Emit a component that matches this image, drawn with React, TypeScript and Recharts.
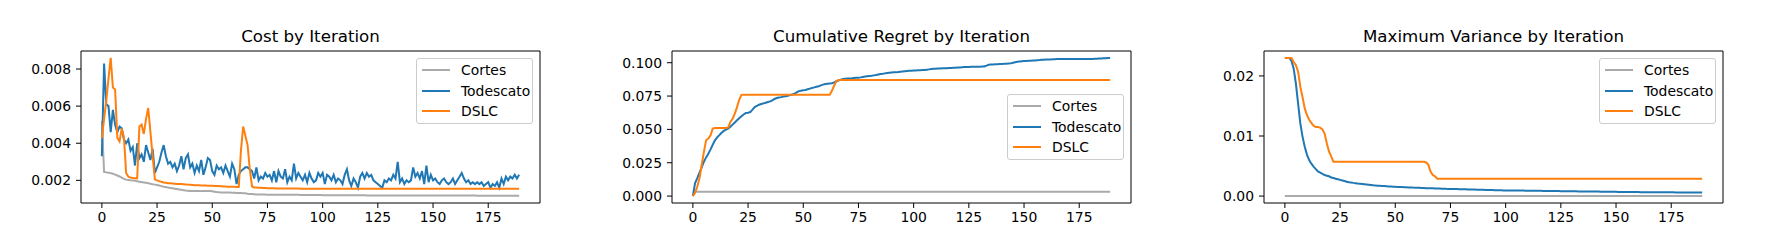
import React from 'react';
import { LineChart, Line, XAxis, YAxis, ReferenceArea, Legend } from 'recharts';

const FONT = '"DejaVu Sans", sans-serif';

const ITERATIONS = Array.from({ length: 190 }, (_, i) => i);
const X_TICKS = [0, 25, 50, 75, 100, 125, 150, 175];
const X_DOMAIN: [number, number] = [-9.45, 198.45];

const SERIES = [
  { key: 'cortes', label: 'Cortes', color: '#aaaaaa' },
  { key: 'todescato', label: 'Todescato', color: '#1f77b4' },
  { key: 'dslc', label: 'DSLC', color: '#ff7f0e' },
];

// ---- Cost by Iteration ----
const COST_CORTES = [
  0.0052, 0.00245, 0.00243, 0.00241, 0.00239, 0.00236, 0.00231, 0.00226, 0.00221, 0.00215,
  0.00208, 0.00204, 0.00202, 0.002, 0.00199, 0.00198, 0.00195, 0.00193, 0.00191, 0.00189,
  0.00187, 0.00185, 0.00182, 0.00179, 0.00177, 0.00175, 0.00172, 0.00169, 0.00166, 0.00164,
  0.00161, 0.00159, 0.00157, 0.00155, 0.00153, 0.00151, 0.00149, 0.00147, 0.00145, 0.00144,
  0.00143, 0.00143, 0.00143, 0.00143, 0.00143, 0.00142, 0.00142, 0.00142, 0.00142, 0.00142,
  0.00141, 0.00139, 0.00137, 0.00136, 0.00135, 0.00135, 0.00134, 0.00134, 0.00134, 0.00133,
  0.00133, 0.00132, 0.00132, 0.00132, 0.00131, 0.0013, 0.00128, 0.00127, 0.00126, 0.00125,
  0.00124, 0.00124, 0.00124, 0.00124, 0.00124, 0.00123, 0.00123, 0.00123, 0.00123, 0.00123,
  0.00122, 0.00122, 0.00122, 0.00122, 0.00122, 0.00122, 0.00122, 0.00122, 0.00122, 0.00122,
  0.00121, 0.00121, 0.00121, 0.00121, 0.00121, 0.00121, 0.00121, 0.00121, 0.00121, 0.00121,
  0.0012, 0.0012, 0.0012, 0.0012, 0.0012, 0.0012, 0.0012, 0.0012, 0.0012, 0.0012,
  0.0012, 0.0012, 0.0012, 0.0012, 0.0012, 0.0012, 0.0012, 0.0012, 0.0012, 0.0012,
  0.00119, 0.00119, 0.00119, 0.00119, 0.00119, 0.00119, 0.00119, 0.00119, 0.00119, 0.00119,
  0.00119, 0.00119, 0.00119, 0.00119, 0.00119, 0.00119, 0.00119, 0.00119, 0.00119, 0.00119,
  0.00119, 0.00119, 0.00119, 0.00119, 0.00119, 0.00119, 0.00119, 0.00119, 0.00119, 0.00119,
  0.00118, 0.00118, 0.00118, 0.00118, 0.00118, 0.00118, 0.00118, 0.00118, 0.00118, 0.00118,
  0.00118, 0.00118, 0.00118, 0.00118, 0.00118, 0.00118, 0.00118, 0.00118, 0.00118, 0.00118,
  0.00117, 0.00117, 0.00117, 0.00117, 0.00117, 0.00117, 0.00117, 0.00117, 0.00117, 0.00117,
  0.00117, 0.00117, 0.00117, 0.00117, 0.00117, 0.00117, 0.00117, 0.00117, 0.00117, 0.00117,
];

const COST_TODESCATO = [
  0.0033, 0.0083, 0.0061, 0.006, 0.0046, 0.0058, 0.005, 0.0046, 0.0049, 0.0048,
  0.0042, 0.004, 0.0042, 0.0036, 0.0038, 0.0028, 0.004, 0.0032, 0.0034, 0.003,
  0.0039, 0.0035, 0.0031, 0.0037, 0.0024, 0.0027, 0.003, 0.0035, 0.0039, 0.0033,
  0.0029, 0.003, 0.0027, 0.0029, 0.0025, 0.0028, 0.0033, 0.0026, 0.0032, 0.0034,
  0.0027, 0.0029, 0.0024, 0.0028, 0.0025, 0.0031, 0.0023, 0.0027, 0.0032, 0.0031,
  0.0025, 0.0023, 0.0028, 0.0026, 0.0027, 0.0024, 0.0028, 0.0025, 0.0022, 0.0029,
  0.0026, 0.0018, 0.0023, 0.0025, 0.0026, 0.0027, 0.0027, 0.0026, 0.0025, 0.0021,
  0.0027, 0.002, 0.0022, 0.0021, 0.0024, 0.0022, 0.0023, 0.002, 0.0025, 0.0019,
  0.0025, 0.0022, 0.0021, 0.0026, 0.0019, 0.0022, 0.002, 0.0029, 0.0021, 0.0024,
  0.0022, 0.002, 0.0023, 0.0019, 0.0024, 0.0021, 0.0019, 0.002, 0.0024, 0.0022,
  0.0024, 0.0018, 0.0023, 0.0022, 0.002, 0.0023, 0.0019, 0.0021, 0.002, 0.0018,
  0.0023, 0.0026, 0.002, 0.0017, 0.0021, 0.0019, 0.0016, 0.0022, 0.0024, 0.0021,
  0.0024, 0.0022, 0.0023, 0.002, 0.0019, 0.0018, 0.0017, 0.0016, 0.002, 0.0019,
  0.0021, 0.002, 0.0023, 0.0021, 0.003, 0.0019, 0.0021, 0.0018, 0.002, 0.0019,
  0.002, 0.0027, 0.0022, 0.0024, 0.0021, 0.0025, 0.0018, 0.0028, 0.0019, 0.0023,
  0.002, 0.0021, 0.0019, 0.0018, 0.002, 0.0021, 0.0019, 0.0018, 0.0019, 0.0021,
  0.0018, 0.002, 0.0022, 0.0024, 0.0021, 0.0019, 0.002, 0.0018, 0.0019, 0.0018,
  0.0019, 0.0018, 0.0019, 0.0017, 0.0018, 0.0019, 0.0016, 0.0018, 0.0017, 0.0019,
  0.0016, 0.0021, 0.0018, 0.0022, 0.002, 0.0022, 0.0021, 0.0023, 0.0021, 0.0023,
];

const COST_DSLC = [
  0.00428, 0.0053, 0.0063, 0.0075, 0.0086, 0.007, 0.0069, 0.0043, 0.0041, 0.0048,
  0.0043, 0.0024, 0.0022, 0.00215, 0.00213, 0.00212, 0.00211, 0.0049, 0.005, 0.0045,
  0.0053, 0.0059, 0.0046, 0.0033, 0.00205, 0.002, 0.00196, 0.00192, 0.00189, 0.00187,
  0.00185, 0.00184, 0.00183, 0.00182, 0.00181, 0.0018, 0.0018, 0.00179, 0.00178, 0.00177,
  0.00176, 0.00175, 0.00174, 0.00173, 0.00173, 0.00172, 0.00172, 0.00172, 0.00171, 0.00171,
  0.00171, 0.0017, 0.0017, 0.00169, 0.00168, 0.00167, 0.00167, 0.00166, 0.00166, 0.00165,
  0.00165, 0.00164, 0.00164, 0.0036, 0.0049, 0.0044, 0.0039, 0.0026, 0.00167, 0.00162,
  0.00161, 0.0016, 0.0016, 0.00159, 0.00159, 0.00158, 0.00158, 0.00157, 0.00157, 0.00156,
  0.00156, 0.00156, 0.00156, 0.00156, 0.00156, 0.00156, 0.00156, 0.00156, 0.00156, 0.00156,
  0.00155, 0.00155, 0.00155, 0.00155, 0.00155, 0.00155, 0.00155, 0.00155, 0.00155, 0.00155,
  0.00155, 0.00155, 0.00155, 0.00155, 0.00155, 0.00155, 0.00155, 0.00155, 0.00155, 0.00155,
  0.00155, 0.00155, 0.00155, 0.00155, 0.00155, 0.00155, 0.00155, 0.00155, 0.00155, 0.00155,
  0.00155, 0.00155, 0.00155, 0.00155, 0.00155, 0.00155, 0.00155, 0.00155, 0.00155, 0.00155,
  0.00155, 0.00155, 0.00155, 0.00155, 0.00155, 0.00155, 0.00155, 0.00155, 0.00155, 0.00155,
  0.00155, 0.00155, 0.00155, 0.00155, 0.00155, 0.00155, 0.00155, 0.00155, 0.00155, 0.00155,
  0.00155, 0.00155, 0.00155, 0.00155, 0.00155, 0.00155, 0.00155, 0.00155, 0.00155, 0.00155,
  0.00155, 0.00155, 0.00155, 0.00155, 0.00155, 0.00155, 0.00155, 0.00155, 0.00155, 0.00155,
  0.00155, 0.00155, 0.00155, 0.00155, 0.00155, 0.00155, 0.00155, 0.00155, 0.00155, 0.00155,
  0.00155, 0.00155, 0.00155, 0.00155, 0.00155, 0.00155, 0.00155, 0.00155, 0.00155, 0.00155,
];

// ---- Cumulative Regret by Iteration ----
const REGRET_CORTES = [
  0.0033, 0.0033, 0.0033, 0.0033, 0.0033, 0.0033, 0.0033, 0.0033, 0.0033, 0.0033,
  0.0033, 0.0033, 0.0033, 0.0033, 0.0033, 0.0033, 0.0033, 0.0033, 0.0033, 0.0033,
  0.0033, 0.0033, 0.0033, 0.0033, 0.0033, 0.0033, 0.0033, 0.0033, 0.0033, 0.0033,
  0.0033, 0.0033, 0.0033, 0.0033, 0.0033, 0.0033, 0.0033, 0.0033, 0.0033, 0.0033,
  0.0033, 0.0033, 0.0033, 0.0033, 0.0033, 0.0033, 0.0033, 0.0033, 0.0033, 0.0033,
  0.0033, 0.0033, 0.0033, 0.0033, 0.0033, 0.0033, 0.0033, 0.0033, 0.0033, 0.0033,
  0.0033, 0.0033, 0.0033, 0.0033, 0.0033, 0.0033, 0.0033, 0.0033, 0.0033, 0.0033,
  0.0033, 0.0033, 0.0033, 0.0033, 0.0033, 0.0033, 0.0033, 0.0033, 0.0033, 0.0033,
  0.0033, 0.0033, 0.0033, 0.0033, 0.0033, 0.0033, 0.0033, 0.0033, 0.0033, 0.0033,
  0.0033, 0.0033, 0.0033, 0.0033, 0.0033, 0.0033, 0.0033, 0.0033, 0.0033, 0.0033,
  0.0033, 0.0033, 0.0033, 0.0033, 0.0033, 0.0033, 0.0033, 0.0033, 0.0033, 0.0033,
  0.0033, 0.0033, 0.0033, 0.0033, 0.0033, 0.0033, 0.0033, 0.0033, 0.0033, 0.0033,
  0.0033, 0.0033, 0.0033, 0.0033, 0.0033, 0.0033, 0.0033, 0.0033, 0.0033, 0.0033,
  0.0033, 0.0033, 0.0033, 0.0033, 0.0033, 0.0033, 0.0033, 0.0033, 0.0033, 0.0033,
  0.0033, 0.0033, 0.0033, 0.0033, 0.0033, 0.0033, 0.0033, 0.0033, 0.0033, 0.0033,
  0.0033, 0.0033, 0.0033, 0.0033, 0.0033, 0.0033, 0.0033, 0.0033, 0.0033, 0.0033,
  0.0033, 0.0033, 0.0033, 0.0033, 0.0033, 0.0033, 0.0033, 0.0033, 0.0033, 0.0033,
  0.0033, 0.0033, 0.0033, 0.0033, 0.0033, 0.0033, 0.0033, 0.0033, 0.0033, 0.0033,
  0.0033, 0.0033, 0.0033, 0.0033, 0.0033, 0.0033, 0.0033, 0.0033, 0.0033, 0.0033,
];

const REGRET_TODESCATO = [
  0, 0.0097, 0.0134, 0.0175, 0.0215, 0.0258, 0.029, 0.0318, 0.035, 0.0385,
  0.0418, 0.044, 0.0457, 0.0475, 0.0489, 0.0498, 0.0506, 0.052, 0.0536, 0.0552,
  0.0568, 0.0583, 0.0598, 0.0612, 0.0623, 0.0625, 0.063, 0.0648, 0.0667, 0.0676,
  0.0685, 0.069, 0.0695, 0.07, 0.0705, 0.071, 0.0717, 0.0728, 0.0735, 0.0739,
  0.0742, 0.0746, 0.0749, 0.0752, 0.0757, 0.0762, 0.0767, 0.0777, 0.0787, 0.079,
  0.0793, 0.0796, 0.0801, 0.0806, 0.0811, 0.0815, 0.082, 0.0824, 0.083, 0.0836,
  0.0841, 0.0843, 0.0845, 0.0846, 0.0853, 0.0861, 0.0867, 0.0873, 0.0878, 0.088,
  0.0881, 0.0882, 0.0883, 0.0885, 0.0887, 0.0888, 0.089, 0.0893, 0.0896, 0.0898,
  0.09, 0.0902, 0.0905, 0.0908, 0.0912, 0.0915, 0.0917, 0.092, 0.0922, 0.0924,
  0.0926, 0.0928, 0.0929, 0.093, 0.0932, 0.0934, 0.0936, 0.0938, 0.0939, 0.094,
  0.0941, 0.0942, 0.0943, 0.0944, 0.0945, 0.0946, 0.0948, 0.095, 0.0952, 0.0954,
  0.0955, 0.0956, 0.0957, 0.0958, 0.0958, 0.0959, 0.096, 0.0961, 0.0962, 0.0963,
  0.0964, 0.0965, 0.0966, 0.0967, 0.0968, 0.0968, 0.0969, 0.0969, 0.097, 0.097,
  0.097, 0.0971, 0.0972, 0.0978, 0.0985, 0.0986, 0.0987, 0.0988, 0.0989, 0.099,
  0.0991, 0.0992, 0.0993, 0.0994, 0.0995, 0.0999, 0.1003, 0.1007, 0.1009, 0.1011,
  0.1012, 0.1013, 0.1014, 0.1015, 0.1016, 0.1017, 0.1019, 0.102, 0.1022, 0.1023,
  0.1024, 0.1025, 0.1025, 0.1026, 0.1026, 0.1027, 0.1027, 0.1027, 0.1027, 0.1027,
  0.1027, 0.1027, 0.1027, 0.1027, 0.1027, 0.1027, 0.1027, 0.1027, 0.1027, 0.1027,
  0.1027, 0.1028, 0.1029, 0.103, 0.1031, 0.1032, 0.1033, 0.1034, 0.1035, 0.1036,
];

const REGRET_DSLC = [
  0, 0.0025, 0.0072, 0.0134, 0.0233, 0.0332, 0.0419, 0.0432, 0.0456, 0.0506,
  0.0511, 0.0511, 0.0511, 0.0511, 0.0511, 0.0511, 0.0514, 0.0556, 0.058, 0.0618,
  0.0667, 0.0722, 0.0759, 0.076, 0.076, 0.076, 0.076, 0.076, 0.076, 0.076,
  0.076, 0.076, 0.076, 0.076, 0.076, 0.076, 0.076, 0.076, 0.076, 0.076,
  0.076, 0.076, 0.076, 0.076, 0.076, 0.076, 0.076, 0.076, 0.076, 0.076,
  0.076, 0.076, 0.076, 0.076, 0.076, 0.076, 0.076, 0.076, 0.076, 0.076,
  0.076, 0.076, 0.076, 0.079, 0.0829, 0.0861, 0.0871, 0.0871, 0.0871, 0.0871,
  0.0871, 0.0871, 0.0871, 0.0871, 0.0871, 0.0871, 0.0871, 0.0871, 0.0871, 0.0871,
  0.0871, 0.0871, 0.0871, 0.0871, 0.0871, 0.0871, 0.0871, 0.0871, 0.0871, 0.0871,
  0.0871, 0.0871, 0.0871, 0.0871, 0.0871, 0.0871, 0.0871, 0.0871, 0.0871, 0.0871,
  0.0871, 0.0871, 0.0871, 0.0871, 0.0871, 0.0871, 0.0871, 0.0871, 0.0871, 0.0871,
  0.0871, 0.0871, 0.0871, 0.0871, 0.0871, 0.0871, 0.0871, 0.0871, 0.0871, 0.0871,
  0.0871, 0.0871, 0.0871, 0.0871, 0.0871, 0.0871, 0.0871, 0.0871, 0.0871, 0.0871,
  0.0871, 0.0871, 0.0871, 0.0871, 0.0871, 0.0871, 0.0871, 0.0871, 0.0871, 0.0871,
  0.0871, 0.0871, 0.0871, 0.0871, 0.0871, 0.0871, 0.0871, 0.0871, 0.0871, 0.0871,
  0.0871, 0.0871, 0.0871, 0.0871, 0.0871, 0.0871, 0.0871, 0.0871, 0.0871, 0.0871,
  0.0871, 0.0871, 0.0871, 0.0871, 0.0871, 0.0871, 0.0871, 0.0871, 0.0871, 0.0871,
  0.0871, 0.0871, 0.0871, 0.0871, 0.0871, 0.0871, 0.0871, 0.0871, 0.0871, 0.0871,
  0.0871, 0.0871, 0.0871, 0.0871, 0.0871, 0.0871, 0.0871, 0.0871, 0.0871, 0.0871,
];

// ---- Maximum Variance by Iteration ----
const VAR_CORTES = [
  0, 0, 0, 0, 0, 0, 0, 0, 0, 0, 0, 0, 0, 0, 0, 0, 0, 0, 0, 0,
  0, 0, 0, 0, 0, 0, 0, 0, 0, 0, 0, 0, 0, 0, 0, 0, 0, 0, 0, 0,
  0, 0, 0, 0, 0, 0, 0, 0, 0, 0, 0, 0, 0, 0, 0, 0, 0, 0, 0, 0,
  0, 0, 0, 0, 0, 0, 0, 0, 0, 0, 0, 0, 0, 0, 0, 0, 0, 0, 0, 0,
  0, 0, 0, 0, 0, 0, 0, 0, 0, 0, 0, 0, 0, 0, 0, 0, 0, 0, 0, 0,
  0, 0, 0, 0, 0, 0, 0, 0, 0, 0, 0, 0, 0, 0, 0, 0, 0, 0, 0, 0,
  0, 0, 0, 0, 0, 0, 0, 0, 0, 0, 0, 0, 0, 0, 0, 0, 0, 0, 0, 0,
  0, 0, 0, 0, 0, 0, 0, 0, 0, 0, 0, 0, 0, 0, 0, 0, 0, 0, 0, 0,
  0, 0, 0, 0, 0, 0, 0, 0, 0, 0, 0, 0, 0, 0, 0, 0, 0, 0, 0, 0,
  0, 0, 0, 0, 0, 0, 0, 0, 0, 0,
];

const VAR_TODESCATO = [
  0.023, 0.023, 0.023, 0.0225, 0.0212, 0.0187, 0.0154, 0.0121, 0.0099, 0.0082,
  0.0069, 0.006, 0.0054, 0.0049, 0.0045, 0.0041, 0.0039, 0.0037, 0.0035, 0.0034,
  0.0033, 0.0031, 0.003, 0.0029, 0.0028, 0.0027, 0.0026, 0.0025, 0.0024, 0.0023,
  0.00227, 0.0022, 0.00214, 0.00208, 0.00204, 0.002, 0.00196, 0.00192, 0.00188, 0.00184,
  0.0018, 0.00177, 0.00174, 0.00171, 0.00168, 0.00166, 0.00164, 0.00161, 0.00159, 0.00157,
  0.00155, 0.00153, 0.00151, 0.0015, 0.00148, 0.00147, 0.00145, 0.00143, 0.00141, 0.0014,
  0.00138, 0.00137, 0.00135, 0.00134, 0.00132, 0.00131, 0.0013, 0.00129, 0.00128, 0.00127,
  0.00126, 0.00124, 0.00123, 0.00121, 0.0012, 0.00119, 0.00118, 0.00117, 0.00116, 0.00115,
  0.00114, 0.00113, 0.00112, 0.00111, 0.0011, 0.00109, 0.00108, 0.00107, 0.00106, 0.00105,
  0.00104, 0.00103, 0.00102, 0.00101, 0.001, 0.00099, 0.00098, 0.00097, 0.00096, 0.00095,
  0.00095, 0.00094, 0.00094, 0.00093, 0.00093, 0.00092, 0.00092, 0.00091, 0.00091, 0.0009,
  0.0009, 0.00089, 0.00089, 0.00088, 0.00088, 0.00087, 0.00087, 0.00086, 0.00086, 0.00085,
  0.00085, 0.00084, 0.00084, 0.00083, 0.00083, 0.00082, 0.00082, 0.00081, 0.00081, 0.0008,
  0.0008, 0.00079, 0.00079, 0.00078, 0.00078, 0.00077, 0.00077, 0.00077, 0.00076, 0.00076,
  0.00076, 0.00075, 0.00075, 0.00074, 0.00074, 0.00073, 0.00073, 0.00072, 0.00072, 0.00071,
  0.00071, 0.0007, 0.0007, 0.0007, 0.00069, 0.00069, 0.00068, 0.00068, 0.00067, 0.00067,
  0.00067, 0.00066, 0.00066, 0.00066, 0.00065, 0.00065, 0.00065, 0.00064, 0.00064, 0.00064,
  0.00063, 0.00063, 0.00063, 0.00062, 0.00062, 0.00062, 0.00062, 0.00061, 0.00061, 0.00061,
  0.00061, 0.0006, 0.0006, 0.0006, 0.0006, 0.0006, 0.00059, 0.00059, 0.00059, 0.00059,
];

const VAR_DSLC = [
  0.023, 0.023, 0.023, 0.023, 0.0223, 0.0218, 0.0207, 0.0182, 0.0165, 0.0146,
  0.0135, 0.0127, 0.0122, 0.0117, 0.0115, 0.0115, 0.0114, 0.0111, 0.0104, 0.0088,
  0.0074, 0.0066, 0.0057, 0.0057, 0.0057, 0.0057, 0.0057, 0.0057, 0.0057, 0.0057,
  0.0057, 0.0057, 0.0057, 0.0057, 0.0057, 0.0057, 0.0057, 0.0057, 0.0057, 0.0057,
  0.0057, 0.0057, 0.0057, 0.0057, 0.0057, 0.0057, 0.0057, 0.0057, 0.0057, 0.0057,
  0.0057, 0.0057, 0.0057, 0.0057, 0.0057, 0.0057, 0.0057, 0.0057, 0.0057, 0.0057,
  0.0057, 0.0057, 0.0057, 0.0057, 0.0056, 0.0052, 0.0041, 0.0035, 0.0033, 0.0029,
  0.0029, 0.0029, 0.0029, 0.0029, 0.0029, 0.0029, 0.0029, 0.0029, 0.0029, 0.0029,
  0.0029, 0.0029, 0.0029, 0.0029, 0.0029, 0.0029, 0.0029, 0.0029, 0.0029, 0.0029,
  0.0029, 0.0029, 0.0029, 0.0029, 0.0029, 0.0029, 0.0029, 0.0029, 0.0029, 0.0029,
  0.0029, 0.0029, 0.0029, 0.0029, 0.0029, 0.0029, 0.0029, 0.0029, 0.0029, 0.0029,
  0.0029, 0.0029, 0.0029, 0.0029, 0.0029, 0.0029, 0.0029, 0.0029, 0.0029, 0.0029,
  0.0029, 0.0029, 0.0029, 0.0029, 0.0029, 0.0029, 0.0029, 0.0029, 0.0029, 0.0029,
  0.0029, 0.0029, 0.0029, 0.0029, 0.0029, 0.0029, 0.0029, 0.0029, 0.0029, 0.0029,
  0.0029, 0.0029, 0.0029, 0.0029, 0.0029, 0.0029, 0.0029, 0.0029, 0.0029, 0.0029,
  0.0029, 0.0029, 0.0029, 0.0029, 0.0029, 0.0029, 0.0029, 0.0029, 0.0029, 0.0029,
  0.0029, 0.0029, 0.0029, 0.0029, 0.0029, 0.0029, 0.0029, 0.0029, 0.0029, 0.0029,
  0.0029, 0.0029, 0.0029, 0.0029, 0.0029, 0.0029, 0.0029, 0.0029, 0.0029, 0.0029,
  0.0029, 0.0029, 0.0029, 0.0029, 0.0029, 0.0029, 0.0029, 0.0029, 0.0029, 0.0029,
];

const COST_TICKS = [0.002, 0.004, 0.006, 0.008];
const REGRET_TICKS = [0, 0.025, 0.05, 0.075, 0.1];
const VAR_TICKS = [0, 0.01, 0.02];

const PANEL_W = 596;
const PLOT_W = 459;
const LEGEND_W = 117;
const LEGEND_H = 66;

function LegendBox() {
  return (
    <div
      style={{
        width: LEGEND_W,
        height: LEGEND_H,
        boxSizing: 'border-box',
        border: '1px solid #cccccc',
        borderRadius: 3,
        background: 'rgba(255,255,255,0.8)',
        padding: '1px 0 0 5px',
        fontFamily: FONT,
        fontSize: 13.9,
        color: '#000',
        textAlign: 'left',
      }}
    >
      {SERIES.map((s) => (
        <div key={s.key} style={{ display: 'flex', alignItems: 'center', height: 20.5 }}>
          <span style={{ display: 'inline-block', width: 28, height: 2, background: s.color, marginRight: 11 }} />
          <span>{s.label}</span>
        </div>
      ))}
    </div>
  );
}

interface PanelProps {
  title: string;
  left: number;
  yAxisWidth: number;
  cortes: number[];
  todescato: number[];
  dslc: number[];
  yTicks: number[];
  yDomain: [number, number];
  digits: number;
  legendTop: number;
}

function Panel({ title, left, yAxisWidth, cortes, todescato, dslc, yTicks, yDomain, digits, legendTop }: PanelProps) {
  const rows = ITERATIONS.map((i) => ({ i, cortes: cortes[i], todescato: todescato[i], dslc: dslc[i] }));
  const marginRight = PANEL_W - yAxisWidth - PLOT_W;
  const tickStyle = { fill: '#000', fontSize: 13.9, fontFamily: FONT };

  return (
    <div style={{ position: 'absolute', left, top: 0, width: PANEL_W, height: 252 }}>
      <div
        style={{
          position: 'absolute',
          left: yAxisWidth,
          width: PLOT_W,
          top: 27,
          height: 20,
          lineHeight: '20px',
          textAlign: 'center',
          fontSize: 16.67,
          fontFamily: FONT,
          color: '#000',
        }}
      >
        {title}
      </div>
      <LineChart width={PANEL_W} height={252} data={rows} margin={{ top: 51, right: marginRight, bottom: 19, left: 0 }}>
        <XAxis
          type="number"
          dataKey="i"
          domain={X_DOMAIN}
          ticks={X_TICKS}
          interval={0}
          allowDataOverflow
          axisLine={false}
          tickLine={{ stroke: '#000' }}
          tickSize={5}
          tickMargin={4}
          height={30}
          tick={tickStyle}
        />
        <YAxis
          type="number"
          domain={yDomain}
          ticks={yTicks}
          interval={0}
          allowDataOverflow
          width={yAxisWidth}
          axisLine={false}
          tickLine={{ stroke: '#000' }}
          tickSize={5}
          tickMargin={5}
          tick={tickStyle}
          tickFormatter={(v: number) => v.toFixed(digits)}
        />
        {SERIES.map((s) => (
          <Line
            key={s.key}
            type="linear"
            dataKey={s.key}
            name={s.label}
            stroke={s.color}
            strokeWidth={2}
            dot={false}
            activeDot={false}
            isAnimationActive={false}
          />
        ))}
        <ReferenceArea
          x1={X_DOMAIN[0]}
          x2={X_DOMAIN[1]}
          y1={yDomain[0]}
          y2={yDomain[1]}
          fill="none"
          stroke="#000"
          strokeWidth={1}
          ifOverflow="visible"
        />
        <Legend
          layout="vertical"
          align="center"
          verticalAlign="middle"
          content={() => <LegendBox />}
          wrapperStyle={{
            top: legendTop,
            left: yAxisWidth + PLOT_W - 7 - LEGEND_W,
            width: LEGEND_W,
            height: LEGEND_H,
          }}
        />
      </LineChart>
    </div>
  );
}

export default function App() {
  return (
    <div style={{ position: 'absolute', left: 0, top: 0, width: 1788, height: 252, background: '#fff' }}>
      <Panel
        title="Cost by Iteration"
        left={0}
        yAxisWidth={81}
        cortes={COST_CORTES}
        todescato={COST_TODESCATO}
        dslc={COST_DSLC}
        yTicks={COST_TICKS}
        yDomain={[0.00078, 0.00897]}
        digits={3}
        legendTop={58}
      />
      <Panel
        title="Cumulative Regret by Iteration"
        left={596}
        yAxisWidth={76}
        cortes={REGRET_CORTES}
        todescato={REGRET_TODESCATO}
        dslc={REGRET_DSLC}
        yTicks={REGRET_TICKS}
        yDomain={[-0.00518, 0.10878]}
        digits={3}
        legendTop={94}
      />
      <Panel
        title="Maximum Variance by Iteration"
        left={1192}
        yAxisWidth={72}
        cortes={VAR_CORTES}
        todescato={VAR_TODESCATO}
        dslc={VAR_DSLC}
        yTicks={VAR_TICKS}
        yDomain={[-0.00115, 0.02415]}
        digits={2}
        legendTop={58}
      />
    </div>
  );
}
